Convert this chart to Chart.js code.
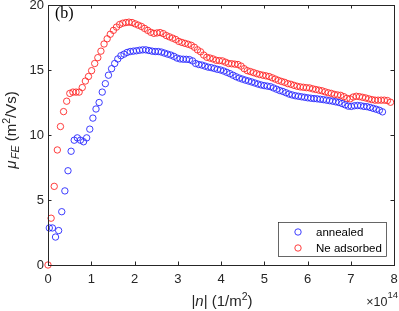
<!DOCTYPE html>
<html lang="en">

<head>
    <meta charset="UTF-8">
    <title>mu FE vs n</title>
    <script src="https://cdn.jsdelivr.net/npm/chart.js"></script>
    <style>
        body { margin: 0; background: white; overflow: hidden; }
        .janela { width: 399px; height: 311px; position: relative; }
    </style>
</head>

<body>
    <div class="janela">
        <canvas id="grafico"></canvas>
    </div>
</body>

</html>
<script>

    // |n| in units of 1e14 1/m^2, mobility in m^2/Vs
    const nAnnealed = [0.03, 0.102, 0.174, 0.246, 0.318, 0.39, 0.462, 0.534, 0.606, 0.678,
        0.75, 0.822, 0.894, 0.966, 1.038, 1.11, 1.182, 1.254, 1.326, 1.398,
        1.47, 1.542, 1.614, 1.686, 1.758, 1.83, 1.902, 1.974, 2.046, 2.118,
        2.19, 2.262, 2.334, 2.406, 2.478, 2.55, 2.622, 2.694, 2.766, 2.838,
        2.91, 2.982, 3.054, 3.126, 3.198, 3.27, 3.342, 3.414, 3.486, 3.558,
        3.63, 3.702, 3.774, 3.846, 3.918, 3.99, 4.062, 4.134, 4.206, 4.278,
        4.35, 4.422, 4.494, 4.566, 4.638, 4.71, 4.782, 4.854, 4.926, 4.998,
        5.07, 5.142, 5.214, 5.286, 5.358, 5.43, 5.502, 5.574, 5.646, 5.718,
        5.79, 5.862, 5.934, 6.006, 6.078, 6.15, 6.222, 6.294, 6.366, 6.438,
        6.51, 6.582, 6.654, 6.726, 6.798, 6.87, 6.942, 7.014, 7.086, 7.158,
        7.23, 7.302, 7.374, 7.446, 7.518, 7.59, 7.662, 7.734];
    const muAnnealed = [2.85, 2.85, 2.15, 2.65, 4.1, 5.7, 7.25, 8.75, 9.6, 9.78,
        9.6, 9.48, 9.78, 10.45, 11.3, 12.0, 12.5, 13.3, 13.95, 14.6,
        15.1, 15.5, 15.85, 16.1, 16.22, 16.35, 16.42, 16.45, 16.48, 16.52,
        16.55, 16.55, 16.5, 16.45, 16.42, 16.42, 16.38, 16.3, 16.22, 16.15,
        16.05, 15.92, 15.85, 15.83, 15.82, 15.8, 15.7, 15.5, 15.42, 15.38,
        15.3, 15.22, 15.18, 15.12, 15.05, 15.0, 14.92, 14.82, 14.72, 14.6,
        14.48, 14.38, 14.3, 14.22, 14.15, 14.08, 14.0, 13.92, 13.85, 13.8,
        13.76, 13.72, 13.62, 13.52, 13.42, 13.35, 13.25, 13.15, 13.08, 13.02,
        12.98, 12.94, 12.9, 12.86, 12.83, 12.8, 12.78, 12.75, 12.72, 12.68,
        12.64, 12.6, 12.55, 12.5, 12.42, 12.32, 12.22, 12.2, 12.25, 12.27,
        12.25, 12.2, 12.18, 12.12, 12.05, 11.98, 11.9, 11.78];

    const nNe = [0, 0.072, 0.144, 0.216, 0.288, 0.36, 0.432, 0.504, 0.576, 0.648,
        0.72, 0.792, 0.864, 0.936, 1.008, 1.08, 1.152, 1.224, 1.296, 1.368,
        1.44, 1.512, 1.584, 1.656, 1.728, 1.8, 1.872, 1.944, 2.016, 2.088,
        2.16, 2.232, 2.304, 2.376, 2.448, 2.52, 2.592, 2.664, 2.736, 2.808,
        2.88, 2.952, 3.024, 3.096, 3.168, 3.24, 3.312, 3.384, 3.456, 3.528,
        3.6, 3.672, 3.744, 3.816, 3.888, 3.96, 4.032, 4.104, 4.176, 4.248,
        4.32, 4.392, 4.464, 4.536, 4.608, 4.68, 4.752, 4.824, 4.896, 4.968,
        5.04, 5.112, 5.184, 5.256, 5.328, 5.4, 5.472, 5.544, 5.616, 5.688,
        5.76, 5.832, 5.904, 5.976, 6.048, 6.12, 6.192, 6.264, 6.336, 6.408,
        6.48, 6.552, 6.624, 6.696, 6.768, 6.84, 6.912, 6.984, 7.056, 7.128,
        7.2, 7.272, 7.344, 7.416, 7.488, 7.56, 7.632, 7.704, 7.776, 7.848,
        7.92];
    const muNe = [0, 3.6, 6.05, 8.85, 10.65, 11.8, 12.6, 13.2, 13.3, 13.3,
        13.3, 13.65, 14.15, 14.5, 14.95, 15.5, 15.95, 16.45, 17.0, 17.4,
        17.75, 18.05, 18.3, 18.5, 18.6, 18.65, 18.68, 18.65, 18.55, 18.45,
        18.35, 18.2, 18.05, 17.9, 17.82, 17.85, 17.88, 17.8, 17.65, 17.55,
        17.45, 17.35, 17.2, 17.12, 17.05, 16.98, 16.9, 16.75, 16.55, 16.4,
        16.15, 15.98, 15.92, 15.85, 15.75, 15.72, 15.7, 15.6, 15.5, 15.48,
        15.45, 15.42, 15.3, 15.1, 14.95, 14.88, 14.8, 14.72, 14.65, 14.6,
        14.55, 14.5, 14.4, 14.3, 14.2, 14.12, 14.05, 13.95, 13.9, 13.82,
        13.75, 13.7, 13.67, 13.64, 13.62, 13.55, 13.5, 13.45, 13.4, 13.32,
        13.25, 13.2, 13.12, 13.08, 13.05, 12.95, 12.82, 12.78, 12.92, 12.98,
        12.95, 12.9, 12.85, 12.78, 12.72, 12.68, 12.68, 12.68, 12.68, 12.65,
        12.52];

    const xTicks = [0, 1, 2, 3, 4, 5, 6, 7, 8];
    const yTicks = [0, 5, 10, 15, 20];
    const nomes = ["annealed", "Ne adsorbed"];
    const cores = ["rgb(40, 40, 255)", "rgb(255, 40, 40)"];

    const fonte = "Liberation Sans, Arial, sans-serif";
    const eixo = "#262626";

    // draws a list of text pieces one after the other, centered on x
    function textoRico(ctx, partes, x, y) {
        let total = 0;
        partes.forEach(p => { ctx.font = p.f; total += ctx.measureText(p.t).width + (p.gap || 0); });
        let cx = x - total / 2;
        ctx.textAlign = "left";
        ctx.textBaseline = "alphabetic";
        partes.forEach(p => {
            ctx.font = p.f;
            ctx.fillText(p.t, cx, y + (p.dy || 0));
            cx += ctx.measureText(p.t).width + (p.gap || 0);
        });
        return cx;
    }

    const moldura = {
        id: "moldura",
        afterDraw(chart) {
            const { ctx, chartArea: a, scales: { x, y } } = chart;
            ctx.save();
            ctx.strokeStyle = eixo;
            ctx.lineWidth = 1;
            ctx.strokeRect(a.left + 0.5, a.top + 0.5, a.right - a.left, a.bottom - a.top);

            // inward ticks on all four sides
            ctx.beginPath();
            xTicks.forEach(v => {
                const px = Math.round(x.getPixelForValue(v)) + 0.5;
                ctx.moveTo(px, a.bottom); ctx.lineTo(px, a.bottom - 3.5);
                ctx.moveTo(px, a.top); ctx.lineTo(px, a.top + 3.5);
            });
            yTicks.forEach(v => {
                const py = Math.round(y.getPixelForValue(v)) + 0.5;
                ctx.moveTo(a.left, py); ctx.lineTo(a.left + 3.5, py);
                ctx.moveTo(a.right, py); ctx.lineTo(a.right - 3.5, py);
            });
            ctx.stroke();

            ctx.fillStyle = eixo;

            // x label
            textoRico(ctx, [
                { t: "|", f: "15px " + fonte },
                { t: "n", f: "italic 15px " + fonte },
                { t: "| (1/m", f: "15px " + fonte },
                { t: "2", f: "10.5px " + fonte, dy: -6 },
                { t: ")", f: "15px " + fonte }
            ], 222, 306);

            // exponent
            ctx.font = "12.5px " + fonte;
            const w1 = ctx.measureText("\u00d710").width;
            ctx.font = "9.5px " + fonte;
            const w2 = ctx.measureText("14").width;
            ctx.textAlign = "left";
            ctx.font = "12.5px " + fonte;
            ctx.fillText("\u00d710", 398 - w1 - w2, 306);
            ctx.font = "9.5px " + fonte;
            ctx.fillText("14", 398 - w2, 298);

            // y label
            ctx.save();
            ctx.translate(16, 130);
            ctx.rotate(-Math.PI / 2);
            textoRico(ctx, [
                { t: "\u03bc", f: "italic 15px " + fonte, gap: 1.5 },
                { t: "FE", f: "italic 10.5px " + fonte, dy: 3 },
                { t: " (m", f: "15px " + fonte },
                { t: "2", f: "10.5px " + fonte, dy: -6 },
                { t: "/Vs)", f: "15px " + fonte }
            ], 0, 0);
            ctx.restore();

            // panel tag
            ctx.font = "16px Liberation Serif, Times New Roman, serif";
            ctx.fillStyle = "#000";
            ctx.textAlign = "left";
            ctx.fillText("(b)", 55, 18);

            // legend
            ctx.fillStyle = "white";
            ctx.fillRect(278.5, 222.5, 108, 34);
            ctx.strokeStyle = eixo;
            ctx.lineWidth = 0.7;
            ctx.strokeRect(278.5, 222.5, 108, 34);
            ctx.font = "11.5px " + fonte;
            ctx.textBaseline = "middle";
            chart.data.datasets.forEach((ds, i) => {
                const ly = 232 + i * 16;
                ctx.beginPath();
                ctx.arc(298, ly, 3.2, 0, Math.PI * 2);
                ctx.strokeStyle = ds.borderColor;
                ctx.lineWidth = 0.9;
                ctx.stroke();
                ctx.fillStyle = "#000";
                ctx.fillText(ds.label, 316, ly + 0.5);
            });
            ctx.restore();
        }
    };

    const ctx = document.getElementById("grafico").getContext("2d");

    const grafico1 = new Chart(ctx, {
        type: "scatter",
        data: {
            datasets: [{
                label: nomes[0],
                data: nAnnealed.map((n, i) => ({ x: n, y: muAnnealed[i] })),
                borderColor: cores[0],
                backgroundColor: "rgba(0,0,0,0)",
                pointRadius: 3.2,
                pointBorderWidth: 0.9,
                clip: false
            }, {
                label: nomes[1],
                data: nNe.map((n, i) => ({ x: n, y: muNe[i] })),
                borderColor: cores[1],
                backgroundColor: "rgba(0,0,0,0)",
                pointRadius: 3.2,
                pointBorderWidth: 0.9,
                clip: false
            }]
        },
        options: {
            responsive: true,
            maintainAspectRatio: false,
            animation: false,
            layout: { padding: { left: 0, right: 5, top: 5, bottom: 0 } },
            plugins: {
                legend: { display: false },
                tooltip: { enabled: false }
            },
            scales: {
                x: {
                    type: "linear",
                    min: 0,
                    max: 8,
                    afterBuildTicks: s => { s.ticks = xTicks.map(v => ({ value: v })); },
                    afterFit: s => { s.height = 46; s.paddingLeft = 0; s.paddingRight = 0; },
                    grid: { display: false, drawTicks: false },
                    border: { display: false },
                    ticks: { color: eixo, font: { family: fonte, size: 13 }, padding: 7, maxRotation: 0 }
                },
                y: {
                    type: "linear",
                    min: 0,
                    max: 20,
                    afterBuildTicks: s => { s.ticks = yTicks.map(v => ({ value: v })); },
                    afterFit: s => { s.width = 48; s.paddingTop = 0; s.paddingBottom = 0; },
                    grid: { display: false, drawTicks: false },
                    border: { display: false },
                    ticks: { color: eixo, font: { family: fonte, size: 13 }, padding: 4 }
                }
            }
        },
        plugins: [moldura]
    });

</script>
